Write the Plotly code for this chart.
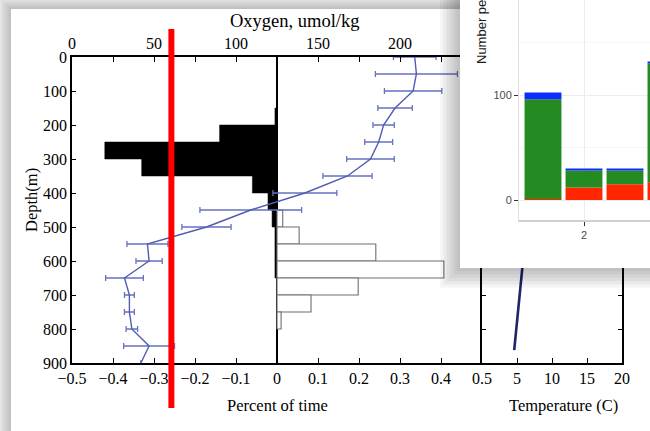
import plotly.graph_objects as go

W, H = 650, 431


def px(x):
    return x / W


def py(y):
    return 1 - y / H


# ---------------- data ----------------
# percent-of-time histograms (depth bin centres, 50 m bins)
low_o2_depth = [175, 225, 275, 325, 375, 425, 475, 525, 575, 625]
low_o2_frac = [-0.005, -0.14, -0.42, -0.33, -0.06, -0.022, -0.012, -0.005, -0.005, -0.005]
high_o2_depth = [475, 525, 575, 625, 675, 725, 775]
high_o2_frac = [0.014, 0.054, 0.241, 0.407, 0.198, 0.083, 0.01]

# oxygen profile
o2_depth = [0, 50, 100, 150, 200, 250, 300, 350, 400, 450, 500, 550, 600, 650, 700, 750, 800, 850, 900]
o2_mean = [209, 210, 208, 197, 190, 187, 182, 168, 142, 109, 82, 46, 47, 32, 35, 35, 36.5, 47, 42]
o2_err = [13, 25, 17.5, 10.5, 6.5, 8.5, 14.5, 15, 19.5, 31, 15, 12.5, 8, 11.5, 3, 3, 3.5, 15.5, 0]
o2_threshold = 60.6

# temperature profile
temp_depth = [560, 620, 700, 780, 862]
temp_c = [6.05, 5.75, 5.37, 4.99, 4.6]

# inset stacked bars
inset_x = [1, 2, 3, 4]
inset_red = [1, 12, 15, 17]
inset_green = [95, 16, 13, 113]
inset_blue = [6.5, 2, 2, 2]

SERIF = "Liberation Serif, Times New Roman, serif"
SANS = "Liberation Sans, Arial, sans-serif"

fig = go.Figure()

# histograms
fig.add_trace(go.Bar(orientation="h", x=low_o2_frac, y=low_o2_depth, width=50,
                     marker=dict(color="black", line=dict(color="black", width=0.5)),
                     xaxis="x", yaxis="y", showlegend=False, hoverinfo="skip"))
fig.add_trace(go.Bar(orientation="h", x=high_o2_frac, y=high_o2_depth, width=50,
                     marker=dict(color="white", line=dict(color="#6e6e6e", width=1.1)),
                     xaxis="x", yaxis="y", showlegend=False, hoverinfo="skip"))

# oxygen profile
fig.add_trace(go.Scatter(x=o2_mean, y=o2_depth, mode="lines",
                         line=dict(color="#4f5db3", width=1.4),
                         error_x=dict(type="data", array=o2_err, color="#6572c2",
                                      thickness=1.3, width=3),
                         xaxis="x2", yaxis="y", showlegend=False, hoverinfo="skip"))

# temperature profile
fig.add_trace(go.Scatter(x=temp_c, y=temp_depth, mode="lines",
                         line=dict(color="#1d2566", width=2.6),
                         xaxis="x3", yaxis="y3", showlegend=False, hoverinfo="skip"))

# inset card (empty subplot, gives white background above the main chart)
fig.add_trace(go.Scatter(x=[], y=[], xaxis="x4", yaxis="y4", showlegend=False, hoverinfo="skip"))

# inset stacked bars
for vals, col in [(inset_red, "#ff2600"), (inset_green, "#238b22"), (inset_blue, "#0d2bff")]:
    fig.add_trace(go.Bar(x=inset_x, y=vals, width=0.9, marker=dict(color=col, line=dict(width=0)),
                         xaxis="x5", yaxis="y5", showlegend=False, hoverinfo="skip"))

main_tick_font = dict(family=SERIF, size=16, color="black")
y_dom = [py(363), py(57)]

fig.update_layout(
    width=W, height=H,
    margin=dict(l=0, r=0, t=0, b=0, pad=0, autoexpand=False),
    paper_bgcolor="#e6e6e6",
    plot_bgcolor="white",
    barmode="relative",
    showlegend=False,
    xaxis=dict(domain=[px(72), px(482)], anchor="y", range=[-0.5, 0.5], automargin=False,
               tickmode="linear", tick0=-0.5, dtick=0.1, ticks="inside", ticklen=5,
               tickwidth=1.2, tickcolor="black", showline=True, linecolor="black",
               linewidth=1.8, showgrid=False, zeroline=True, zerolinecolor="black",
               zerolinewidth=1.5, tickfont=main_tick_font),
    xaxis2=dict(overlaying="x", side="top", anchor="y", range=[0, 250], automargin=False,
                tickmode="array", tickvals=list(range(0, 251, 25)),
                ticktext=[str(v) if v % 50 == 0 and v < 250 else "" for v in range(0, 251, 25)],
                ticks="inside", ticklen=5, tickwidth=1.2, tickcolor="black",
                showline=True, linecolor="black", linewidth=1.8, showgrid=False,
                zeroline=False, tickfont=main_tick_font),
    yaxis=dict(domain=y_dom, anchor="x", range=[900, 0], tickmode="linear", tick0=0,
               dtick=100, ticks="inside", ticklen=4, tickwidth=1.2, tickcolor="black",
               showline=True, linecolor="black", linewidth=1.8, showgrid=False,
               zeroline=False, tickfont=main_tick_font, automargin=False),
    xaxis3=dict(domain=[px(482), px(622)], anchor="y3", range=[0, 20], automargin=False,
                tickmode="array", tickvals=[5, 10, 15, 20], ticks="inside", ticklen=5,
                tickwidth=1.2, tickcolor="black", showline=True, mirror="ticks",
                linecolor="black", linewidth=1.8, showgrid=False, zeroline=False,
                tickfont=main_tick_font),
    yaxis3=dict(domain=y_dom, anchor="x3", range=[900, 0], tickmode="linear", tick0=0,
                dtick=100, ticks="inside", ticklen=4, tickwidth=1.2, tickcolor="black",
                showline=True, mirror="ticks", linecolor="black", linewidth=1.8,
                showgrid=False, zeroline=False, showticklabels=False, automargin=False),
    xaxis4=dict(domain=[px(460), 1], anchor="y4", visible=False, range=[0, 1], automargin=False),
    yaxis4=dict(domain=[py(268), 1], anchor="x4", visible=False, range=[0, 1], automargin=False),
    xaxis5=dict(domain=[px(519), 1], anchor="y5", range=[0.4146, 3.61], automargin=False,
                tickmode="array", tickvals=[2, 4], ticks="outside", ticklen=4,
                tickcolor="#333333", tickwidth=1, showgrid=True, gridcolor="#ececec",
                gridwidth=1, showline=True, linecolor="#d0d0d0", linewidth=1.5,
                zeroline=False, tickfont=dict(family=SANS, size=11, color="#4d4d4d")),
    yaxis5=dict(domain=[py(220), 1], anchor="x5", range=[-19.05, 190.5], automargin=False,
                tickmode="linear", tick0=0, dtick=100, ticks="outside", ticklen=4,
                tickcolor="#333333", tickwidth=1, showgrid=True, gridcolor="#ececec",
                gridwidth=1, minor=dict(dtick=50, showgrid=True, gridcolor="#f6f6f6"),
                showline=True, linecolor="#e0e0e0", linewidth=1, zeroline=False,
                tickfont=dict(family=SANS, size=11, color="#4d4d4d")),
)

shapes = []
# page card with soft shadow
for k in range(6):
    shapes.append(dict(type="rect", xref="paper", yref="paper",
                       x0=px(1 + 1.7 * k), x1=1, y0=0, y1=py(1.5 * k),
                       fillcolor="black", opacity=0.028, line=dict(width=0), layer="below"))
shapes.append(dict(type="rect", xref="paper", yref="paper", x0=px(11), x1=1, y0=0, y1=py(9),
                   fillcolor="white", line=dict(width=0), layer="below"))
# inset shadow (left and bottom of the inset card)
for k in range(1, 7):
    w = 3.3 * k
    path = (f"M {px(460 - w)},{py(0)} L {px(460)},{py(0)} L {px(460)},{py(268)} "
            f"L {px(650)},{py(268)} L {px(650)},{py(268 + w)} L {px(460 - w)},{py(268 + w)} Z")
    shapes.append(dict(type="path", xref="paper", yref="paper", path=path,
                       fillcolor="black", opacity=0.045, line=dict(width=0), layer="above"))
# red oxygen threshold marker
shapes.append(dict(type="line", xref="x2", yref="paper", x0=o2_threshold, x1=o2_threshold,
                   y0=py(408), y1=py(29), line=dict(color="#ff0000", width=6), layer="above"))
fig.update_layout(shapes=shapes)

ann = [
    dict(text="Oxygen, umol/kg", x=px(295), y=py(21), font=dict(family=SERIF, size=18.5, color="black")),
    dict(text="Percent of time", x=px(277), y=py(405), font=dict(family=SERIF, size=16.5, color="black")),
    dict(text="Temperature (C)", x=px(563), y=py(405), font=dict(family=SERIF, size=16.5, color="black")),
    dict(text="Depth(m)", x=px(31), y=py(200), textangle=-90,
         font=dict(family=SERIF, size=16.5, color="black")),
]
for a in ann:
    a.update(xref="paper", yref="paper", showarrow=False, xanchor="center", yanchor="middle")
# inset y-axis title: only its lower part lies inside the picture
ann.append(dict(text="Number pe", x=px(481), y=py(66), xref="paper", yref="paper",
                showarrow=False, xanchor="center", yanchor="bottom", textangle=-90,
                font=dict(family=SANS, size=13, color="#1a1a1a")))
fig.update_layout(annotations=ann)

fig.write_html("out.html")
